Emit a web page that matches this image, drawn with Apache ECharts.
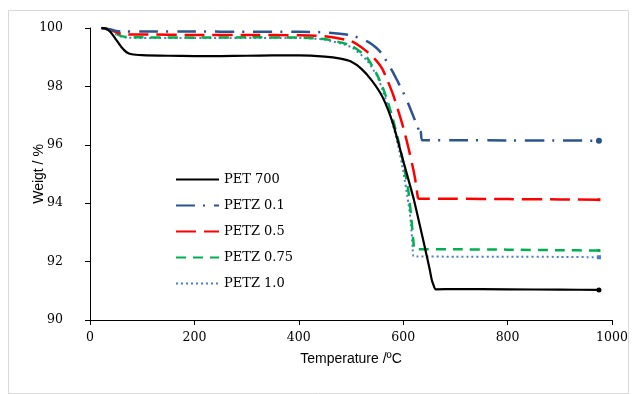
<!DOCTYPE html>
<html>
<head>
<meta charset="utf-8">
<script src="https://cdn.jsdelivr.net/npm/echarts@6/dist/echarts.min.js"></script>
<style>
html,body{margin:0;padding:0;background:#fff;}
#chart{width:633px;height:394px;}
</style>
</head>
<body>
<div id="chart"></div>
<script>
// ---- Data ----
var seriesNames = ['PET 700', 'PETZ 0.1', 'PETZ 0.5', 'PETZ 0.75', 'PETZ 1.0'];

var pet700T = [22,30,40,50,60,70,80,100,150,200,250,300,350,400,450,480,500,520,540,560,580,600,620,640,650,655,658,660,662,700,800,900,975];
var pet700W = [100,99.98,99.85,99.6,99.35,99.17,99.1,99.07,99.05,99.04,99.04,99.05,99.06,99.06,99.02,98.95,98.85,98.6,98.2,97.65,96.75,95.45,94.15,92.6,91.8,91.35,91.2,91.1,91.05,91.06,91.05,91.04,91.03];

var petz01T = [22,30,40,50,60,70,100,200,300,400,450,500,530,550,560,570,580,590,600,610,620,630,633,634,636,700,800,900,975];
var petz01W = [100,99.98,99.95,99.9,99.88,99.88,99.88,99.88,99.87,99.87,99.85,99.75,99.55,99.3,99.1,98.8,98.5,98.15,97.8,97.4,96.95,96.5,96.3,96.45,96.16,96.16,96.15,96.15,96.14];

var petz05T = [22,30,40,50,60,70,100,200,300,400,450,500,530,550,560,570,580,590,600,610,620,625,628,630,700,800,900,975];
var petz05W = [100,99.98,99.93,99.85,99.8,99.78,99.78,99.76,99.76,99.75,99.72,99.55,99.2,98.85,98.6,98.2,97.75,97.2,96.6,95.9,95.1,94.6,94.2,94.15,94.15,94.14,94.13,94.12];

var petz075T = [22,30,40,50,60,70,100,200,300,400,450,500,530,550,560,570,580,590,600,610,615,620,622,700,800,900,975];
var petz075W = [100,99.97,99.9,99.8,99.72,99.69,99.68,99.67,99.68,99.67,99.62,99.4,99.0,98.4,98.0,97.5,96.9,96.2,95.4,94.4,93.6,92.6,92.42,92.42,92.41,92.39,92.38];

var petz10T = [22,30,40,50,60,70,100,200,300,400,450,500,530,550,560,570,580,590,600,610,615,618,620,700,800,900,975];
var petz10W = [100,99.97,99.9,99.78,99.7,99.67,99.66,99.66,99.66,99.66,99.6,99.35,98.9,98.35,97.9,97.35,96.7,96.0,95.1,94.0,93.3,92.5,92.18,92.17,92.17,92.16,92.15];

var xTicks = {min: 0, max: 1000, step: 200};
var yTicks = {min: 90, max: 100, step: 2};

function pairs(t, w) {
  var out = [];
  for (var i = 0; i < t.length; i++) out.push([t[i], w[i]]);
  return out;
}

var styles = [
  {color: '#000000', width: 2.2, type: 'solid', end: 'circle', endSize: 5},
  {color: '#2B5390', width: 2.5, type: [19, 8, 2, 9], end: 'circle', endSize: 6},
  {color: '#FF0000', width: 2.5, type: [20, 8], end: 'rect', endSize: 3},
  {color: '#00B050', width: 2.5, type: [10, 7], end: 'rect', endSize: 3},
  {color: '#4A7EC7', width: 2, type: [2, 3], end: 'rect', endSize: 4}
];
var tSets = [pet700T, petz01T, petz05T, petz075T, petz10T];
var wSets = [pet700W, petz01W, petz05W, petz075W, petz10W];

var series = seriesNames.map(function (n, i) {
  var t = tSets[i], w = wSets[i];
  return {
    name: n,
    type: 'line',
    data: pairs(t, w),
    symbol: 'none',
    smooth: 0.2,
    z: 10 - i,
    itemStyle: {color: styles[i].color},
    lineStyle: {color: styles[i].color, width: styles[i].width, type: styles[i].type},
    markPoint: {
      symbol: styles[i].end,
      symbolSize: styles[i].endSize,
      label: {show: false},
      itemStyle: {color: styles[i].color},
      silent: true,
      data: [{coord: [t[t.length - 1], w[w.length - 1]]}]
    },
    emphasis: {disabled: true},
    animation: false
  };
});

var serif = 'DejaVu Serif';
var sans = 'Liberation Sans';

var chart = echarts.init(document.getElementById('chart'), null, {renderer: 'canvas'});
chart.setOption({
  backgroundColor: '#ffffff',
  animation: false,
  graphic: [{
    type: 'rect', left: 6, top: 8, silent: true,
    shape: {width: 620, height: 383},
    style: {fill: 'none', stroke: '#d9d9d9', lineWidth: 1}
  }],
  grid: {left: 90, right: 21, top: 28, bottom: 74, containLabel: false},
  legend: {
    orient: 'vertical',
    left: 170,
    top: 168,
    itemWidth: 43,
    itemHeight: 14,
    itemGap: 13,
    data: seriesNames,
    itemStyle: {color: 'rgba(0,0,0,0)', borderWidth: 0, opacity: 0},
    textStyle: {fontFamily: serif, fontSize: 13, color: '#000'}
  },
  xAxis: {
    type: 'value',
    min: xTicks.min, max: xTicks.max, interval: xTicks.step,
    name: 'Temperature /ºC',
    nameLocation: 'middle',
    nameGap: 32,
    nameMoveOverlap: false,
    nameTextStyle: {fontFamily: sans, fontSize: 14, color: '#000'},
    axisLine: {show: true, onZero: false, lineStyle: {color: '#000', width: 1}},
    axisTick: {show: true, inside: false, length: 5, lineStyle: {color: '#000'}},
    axisLabel: {fontFamily: serif, fontSize: 12.5, color: '#000', margin: 11,
      formatter: function (v) { return String(v); }},
    splitLine: {show: false}
  },
  yAxis: {
    type: 'value',
    min: yTicks.min, max: yTicks.max, interval: yTicks.step,
    name: 'Weigt / %',
    nameLocation: 'middle',
    nameGap: 44,
    nameMoveOverlap: false,
    nameTextStyle: {fontFamily: sans, fontSize: 14, color: '#000'},
    axisLine: {show: true, onZero: false, lineStyle: {color: '#000', width: 1}},
    axisTick: {show: true, inside: false, length: 5, lineStyle: {color: '#000'}},
    axisLabel: {fontFamily: serif, fontSize: 12.5, color: '#000', margin: 27,
      formatter: function (v) { return String(v); }},
    splitLine: {show: false}
  },
  series: series
});
</script>
</body>
</html>
